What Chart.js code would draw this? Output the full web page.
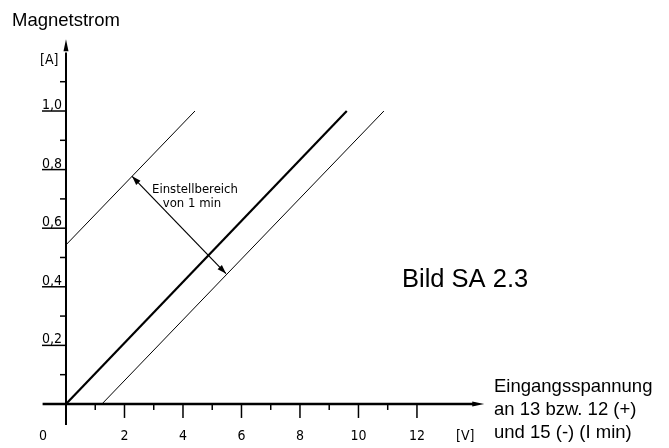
<!DOCTYPE html>
<html>
<head>
<meta charset="utf-8">
<title>Bild SA 2.3</title>
<script src="https://cdn.jsdelivr.net/npm/chart.js@4"></script>
<style>
    html, body { margin: 0; padding: 0; background: #fff; }
    #wrap { width: 669px; height: 448px; position: relative; }
</style>
</head>
<body>
<div id="wrap"><canvas id="chart_sa23" width="669" height="448"></canvas></div>
<script>
(function () {

    "use strict";

    // Kennlinien: Eingangsspannung [V] -> Magnetstrom [A]
    var lineImin   = [{x: 0, y: 0}, {x: 9.6, y: 1.0}];
    var lineLower  = [{x: 1.23, y: 0}, {x: 10.87, y: 1.0}];
    var lineUpper  = [{x: 0, y: 0.543}, {x: 4.41, y: 1.0}];
    var rangeArrow = [{x: 2.26, y: 0.777}, {x: 5.47, y: 0.445}];

    // Achsbeschriftung
    var xMajorTicks = [2, 4, 6, 8, 10, 12];
    var xMinorTicks = [1, 3, 5, 7, 9, 11];
    var yMajorTicks = [0.2, 0.4, 0.6, 0.8, 1.0];
    var yMinorTicks = [0.1, 0.3, 0.5, 0.7, 0.9, 1.1];
    var yTickLabels = ['0,2', '0,4', '0,6', '0,8', '1,0'];

    var INK = '#000';
    var TICK_FONT = '14px "Liberation Sans Narrow", "DejaVu Sans Condensed", sans-serif';
    var TEXT_FONT = '18.5px "Liberation Sans", Arial, sans-serif';

    function arrowHead(ctx, x, y, angle, len, half) {
        ctx.save();
        ctx.translate(x, y);
        ctx.rotate(angle);
        ctx.beginPath();
        ctx.moveTo(0, 0);
        ctx.lineTo(-len, -half);
        ctx.lineTo(-len, half);
        ctx.closePath();
        ctx.fill();
        ctx.restore();
    }

    var axesPlugin = {
        id: 'sa23axes',
        afterDatasetsDraw: function (chart) {
            var ctx = chart.ctx;
            var xs = chart.scales.x;
            var ys = chart.scales.y;
            var x0 = xs.getPixelForValue(0);
            var y0 = ys.getPixelForValue(0);
            var i, px, py;

            ctx.save();
            ctx.strokeStyle = INK;
            ctx.fillStyle = INK;
            ctx.lineCap = 'butt';

            // y axis
            ctx.lineWidth = 2;
            ctx.beginPath();
            ctx.moveTo(x0, ys.getPixelForValue(-0.072));
            ctx.lineTo(x0, ys.getPixelForValue(1.2));
            ctx.stroke();
            arrowHead(ctx, x0, ys.getPixelForValue(1.245), -Math.PI / 2, 12, 2.5);

            // x axis
            ctx.lineWidth = 2.5;
            ctx.beginPath();
            ctx.moveTo(xs.getPixelForValue(-0.8), y0);
            ctx.lineTo(xs.getPixelForValue(14.0), y0);
            ctx.stroke();
            arrowHead(ctx, xs.getPixelForValue(14.3), y0, 0, 12, 2.5);

            // x ticks
            ctx.lineWidth = 1.5;
            for (i = 0; i < xMajorTicks.length; i++) {
                px = xs.getPixelForValue(xMajorTicks[i]);
                ctx.beginPath();
                ctx.moveTo(px, y0);
                ctx.lineTo(px, y0 + 14);
                ctx.stroke();
            }
            for (i = 0; i < xMinorTicks.length; i++) {
                px = xs.getPixelForValue(xMinorTicks[i]);
                ctx.beginPath();
                ctx.moveTo(px, y0);
                ctx.lineTo(px, y0 + 6);
                ctx.stroke();
            }

            // y ticks
            for (i = 0; i < yMajorTicks.length; i++) {
                py = ys.getPixelForValue(yMajorTicks[i]);
                ctx.beginPath();
                ctx.moveTo(x0 - 24, py);
                ctx.lineTo(x0, py);
                ctx.stroke();
            }
            for (i = 0; i < yMinorTicks.length; i++) {
                py = ys.getPixelForValue(yMinorTicks[i]);
                ctx.beginPath();
                ctx.moveTo(x0 - 6, py);
                ctx.lineTo(x0, py);
                ctx.stroke();
            }

            // tick labels
            ctx.font = TICK_FONT;
            ctx.textAlign = 'center';
            ctx.textBaseline = 'middle';
            for (i = 0; i < xMajorTicks.length; i++) {
                ctx.fillText(String(xMajorTicks[i]), xs.getPixelForValue(xMajorTicks[i]), y0 + 32);
            }
            ctx.fillText('0', x0 - 23, y0 + 32);
            ctx.fillText('[V]', xs.getPixelForValue(13.65), y0 + 32);

            ctx.textAlign = 'left';
            ctx.textBaseline = 'alphabetic';
            for (i = 0; i < yMajorTicks.length; i++) {
                ctx.fillText(yTickLabels[i], x0 - 24, ys.getPixelForValue(yMajorTicks[i]) - 2);
            }
            ctx.textBaseline = 'middle';
            ctx.fillText('[A]', x0 - 26, 60);

            // Einstellbereich arrow heads
            var a = {x: xs.getPixelForValue(rangeArrow[0].x), y: ys.getPixelForValue(rangeArrow[0].y)};
            var b = {x: xs.getPixelForValue(rangeArrow[1].x), y: ys.getPixelForValue(rangeArrow[1].y)};
            var ang = Math.atan2(b.y - a.y, b.x - a.x);
            arrowHead(ctx, b.x, b.y, ang, 9, 3);
            arrowHead(ctx, a.x, a.y, ang + Math.PI, 9, 3);

            ctx.font = '13px "DejaVu Sans Condensed", "DejaVu Sans", sans-serif';
            ctx.textAlign = 'center';
            ctx.fillText('Einstellbereich', 195, 190);
            ctx.fillText('von 1 min', 192, 204);

            // texts
            ctx.textAlign = 'left';
            ctx.font = TEXT_FONT;
            ctx.fillText('Magnetstrom', 12, 21);
            ctx.fillText('Eingangsspannung', 494, 387);
            ctx.fillText('an 13 bzw. 12 (+)', 494, 410);
            ctx.fillText('und 15 (-) (I min)', 494, 433);

            ctx.font = '25.5px "Liberation Sans", Arial, sans-serif';
            ctx.fillText('Bild SA 2.3', 402, 280);

            ctx.restore();
        }
    };

    function lineSet(label, data, width) {
        return {
            label: label,
            data: data,
            showLine: true,
            borderColor: INK,
            borderWidth: width,
            pointRadius: 0,
            fill: false
        };
    }

    var config = {
        type: 'scatter',
        data: {
            datasets: [
                lineSet('I min', lineImin, 2.2),
                lineSet('untere Grenze', lineLower, 1),
                lineSet('obere Grenze', lineUpper, 1),
                lineSet('Einstellbereich', rangeArrow, 1.2)
            ]
        },
        options: {
            responsive: false,
            animation: false,
            layout: { padding: { left: 42.6, right: 176, top: 40.7, bottom: 20.6 } },
            plugins: {
                legend: { display: false },
                tooltip: { enabled: false },
                title: { display: false }
            },
            scales: {
                x: { type: 'linear', min: -0.8, max: 14.6, display: false },
                y: { type: 'linear', min: -0.08, max: 1.24, display: false }
            }
        },
        plugins: [axesPlugin]
    };

    var ctx = document.getElementById('chart_sa23').getContext('2d');
    new Chart(ctx, config);

})();
</script>
</body>
</html>
